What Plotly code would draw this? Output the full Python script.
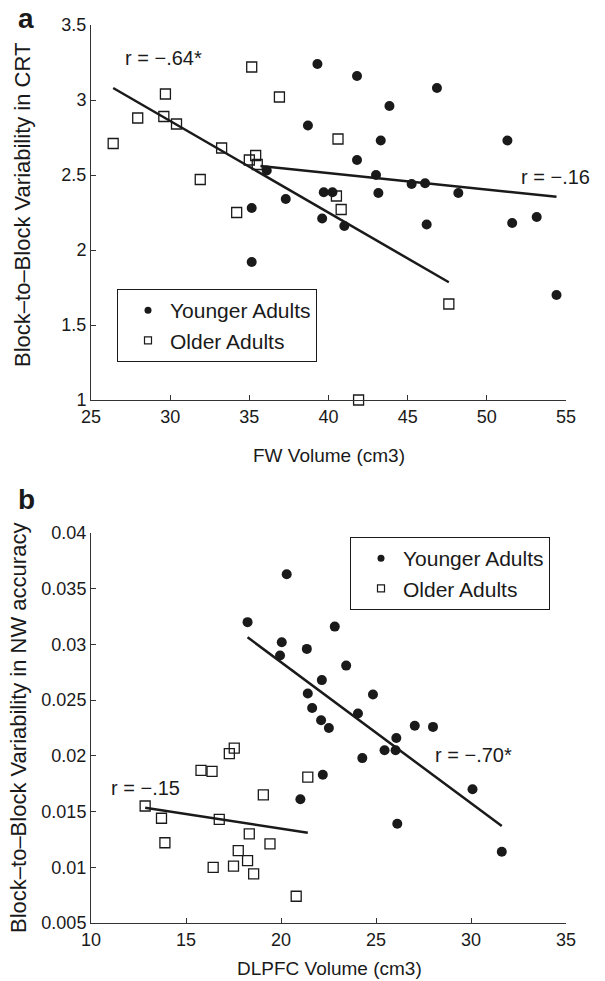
import plotly.graph_objects as go

# ---------------- Panel a data (FW volume vs CRT variability) ----------------
a_young_x = [39.3, 38.7, 36.1, 35.15, 37.3, 39.7, 40.25, 39.6, 41.8, 46.85, 43.85, 43.3, 51.3,
             41.8, 43.0, 45.25, 46.1, 48.2, 43.15, 53.15, 41.0, 46.2, 51.6, 54.4, 35.15]
a_young_y = [3.24, 2.83, 2.53, 2.28, 2.34, 2.385, 2.385, 2.21, 3.16, 3.08, 2.96, 2.73, 2.73,
             2.60, 2.50, 2.44, 2.445, 2.38, 2.38, 2.22, 2.16, 2.17, 2.18, 1.70, 1.92]
a_old_x = [26.4, 27.95, 29.7, 29.6, 30.4, 35.15, 36.9, 33.25, 31.9, 35.0, 35.4, 35.5, 34.2,
           40.6, 40.5, 40.8, 47.6, 41.9]
a_old_y = [2.71, 2.88, 3.04, 2.89, 2.84, 3.22, 3.02, 2.68, 2.47, 2.60, 2.63, 2.57, 2.25,
           2.74, 2.36, 2.27, 1.64, 1.00]
a_fit_old_x = [26.4, 47.6]
a_fit_old_y = [3.08, 1.785]
a_fit_young_x = [35.7, 54.4]
a_fit_young_y = [2.56, 2.355]

# ---------------- Panel b data (DLPFC volume vs NW accuracy variability) ----------------
b_young_x = [20.3, 18.24, 20.04, 19.95, 21.36, 22.83, 23.43, 22.15, 21.41, 21.64, 22.11, 22.52,
             24.05, 22.2, 21.02, 24.84, 27.04, 28.0, 26.07, 25.45, 26.03, 24.28, 30.08, 26.12, 31.62]
b_young_y = [0.0363, 0.0320, 0.0302, 0.0290, 0.0296, 0.0316, 0.0281, 0.0268, 0.0256, 0.0243,
             0.0232, 0.0225, 0.0238, 0.0183, 0.0161, 0.0255, 0.0227, 0.0226, 0.0216, 0.0205,
             0.0205, 0.0198, 0.0170, 0.0139, 0.0114]
b_old_x = [17.54, 17.28, 15.79, 16.37, 19.07, 21.41, 12.85, 13.71, 16.75, 18.33, 19.42, 13.89,
           17.75, 16.43, 17.5, 18.24, 18.56, 20.8]
b_old_y = [0.0207, 0.0202, 0.0187, 0.0186, 0.0165, 0.0181, 0.0155, 0.0144, 0.0143, 0.0130,
           0.0121, 0.0122, 0.0115, 0.0100, 0.0101, 0.0106, 0.0094, 0.0074]
b_fit_young_x = [18.24, 31.62]
b_fit_young_y = [0.03064, 0.0137]
b_fit_old_x = [12.85, 21.41]
b_fit_old_y = [0.01534, 0.01310]

# tick labels
a_xticks = [25, 30, 35, 40, 45, 50, 55]
a_yticks = [1, 1.5, 2, 2.5, 3, 3.5]
a_yticktext = ["1", "1.5", "2", "2.5", "3", "3.5"]
b_xticks = [10, 15, 20, 25, 30, 35]
b_yticks = [0.005, 0.01, 0.015, 0.02, 0.025, 0.03, 0.035, 0.04]
b_yticktext = ["0.005", "0.01", "0.015", "0.02", "0.025", "0.03", "0.035", "0.04"]
group_names = ["Younger Adults", "Older Adults"]

FONT = "Liberation Sans, Arial, Helvetica, sans-serif"
INK = "#1a1a1a"
W, H = 605, 981


def fx(px):
    return px / W


def fy(py):
    return 1 - py / H


fig = go.Figure()

dot = dict(symbol="circle", size=10, color=INK, line=dict(width=0))
sq = dict(symbol="square-open", size=10, color=INK, line=dict(width=1.3, color=INK))
dot_leg = dict(symbol="circle", size=7, color=INK, line=dict(width=0))
sq_leg = dict(symbol="square-open", size=7, color=INK, line=dict(width=1.2, color=INK))
fit_line = dict(color=INK, width=2.5)


def add_panel(xa, ya, leg, yx, yy, ox, oy, f1x, f1y, f2x, f2y):
    fig.add_trace(go.Scatter(x=yx, y=yy, mode="markers", marker=dot, name=group_names[0],
                             xaxis=xa, yaxis=ya, showlegend=False, cliponaxis=False))
    fig.add_trace(go.Scatter(x=ox, y=oy, mode="markers", marker=sq, name=group_names[1],
                             xaxis=xa, yaxis=ya, showlegend=False, cliponaxis=False))
    fig.add_trace(go.Scatter(x=f1x, y=f1y, mode="lines", line=fit_line, showlegend=False,
                             xaxis=xa, yaxis=ya, hoverinfo="skip"))
    fig.add_trace(go.Scatter(x=f2x, y=f2y, mode="lines", line=fit_line, showlegend=False,
                             xaxis=xa, yaxis=ya, hoverinfo="skip"))
    # legend entries (smaller symbols as in the original legend)
    fig.add_trace(go.Scatter(x=[None], y=[None], mode="markers", marker=dot_leg,
                             name=group_names[0], xaxis=xa, yaxis=ya, legend=leg))
    fig.add_trace(go.Scatter(x=[None], y=[None], mode="markers", marker=sq_leg,
                             name=group_names[1], xaxis=xa, yaxis=ya, legend=leg))


add_panel("x", "y", "legend", a_young_x, a_young_y, a_old_x, a_old_y,
          a_fit_old_x, a_fit_old_y, a_fit_young_x, a_fit_young_y)
add_panel("x2", "y2", "legend2", b_young_x, b_young_y, b_old_x, b_old_y,
          b_fit_young_x, b_fit_young_y, b_fit_old_x, b_fit_old_y)

xdom = [fx(91), fx(566)]
axis_common = dict(showline=True, linecolor="#333333", linewidth=1, mirror=False,
                   ticks="inside", ticklen=5, tickcolor="#333333", tickwidth=1,
                   showgrid=False, zeroline=False, automargin=False,
                   tickfont=dict(family=FONT, size=18, color=INK))

leg_common = dict(xanchor="left", yanchor="top", bordercolor=INK, borderwidth=1,
                  bgcolor="white", font=dict(family=FONT, size=21, color=INK),
                  indentation=8, itemwidth=34, itemsizing="trace", tracegroupgap=0)

fig.update_layout(
    width=W, height=H,
    margin=dict(l=0, r=0, t=0, b=0),
    paper_bgcolor="white", plot_bgcolor="white",
    font=dict(family=FONT, color=INK),
    xaxis=dict(domain=xdom, anchor="y", range=[25, 55], tickvals=a_xticks, **axis_common),
    yaxis=dict(domain=[fy(400), fy(25)], anchor="x", range=[1, 3.5],
               tickvals=a_yticks, ticktext=a_yticktext, **axis_common),
    xaxis2=dict(domain=xdom, anchor="y2", range=[10, 35], tickvals=b_xticks, **axis_common),
    yaxis2=dict(domain=[fy(923), fy(533)], anchor="x2", range=[0.005, 0.04],
                tickvals=b_yticks, ticktext=b_yticktext, **axis_common),
    legend=dict(x=fx(117), y=fy(289), **leg_common),
    legend2=dict(x=fx(350), y=fy(537), **leg_common),
    showlegend=True,
)

ann_font = dict(family=FONT, size=20, color=INK)
title_font = dict(family=FONT, size=19, color=INK)
ytitle_font = dict(family=FONT, size=22, color=INK)
annotations = [
    dict(x=27.02, y=3.28, xref="x", yref="y", text="r = −.64*", showarrow=False,
         xanchor="left", yanchor="middle", font=ann_font),
    dict(x=52.04, y=2.487, xref="x", yref="y", text="r = −.16", showarrow=False,
         xanchor="left", yanchor="middle", font=ann_font),
    dict(x=10.95, y=0.01711, xref="x2", yref="y2", text="r = −.15", showarrow=False,
         xanchor="left", yanchor="middle", font=ann_font),
    dict(x=27.98, y=0.02007, xref="x2", yref="y2", text="r = −.70*", showarrow=False,
         xanchor="left", yanchor="middle", font=ann_font),
    # panel letters
    dict(x=fx(26), y=fy(18), xref="paper", yref="paper", text="<b>a</b>", showarrow=False,
         xanchor="center", yanchor="middle", font=dict(family=FONT, size=28, color=INK)),
    dict(x=fx(26), y=fy(500), xref="paper", yref="paper", text="<b>b</b>", showarrow=False,
         xanchor="center", yanchor="middle", font=dict(family=FONT, size=28, color=INK)),
    # axis titles
    dict(x=fx((91 + 566) / 2), y=fy(455), xref="paper", yref="paper",
         text="FW Volume (cm3)", showarrow=False, xanchor="center", yanchor="middle",
         font=title_font),
    dict(x=fx((92 + 566) / 2), y=fy(968), xref="paper", yref="paper",
         text="DLPFC Volume (cm3)", showarrow=False, xanchor="center", yanchor="middle",
         font=title_font),
    dict(x=fx(23), y=fy(205), xref="paper", yref="paper",
         text="Block–to–Block Variability in CRT", showarrow=False, textangle=-90,
         xanchor="center", yanchor="middle", font=ytitle_font),
    dict(x=fx(18), y=fy(728), xref="paper", yref="paper",
         text="Block–to–Block Variability in NW accuracy", showarrow=False, textangle=-90,
         xanchor="center", yanchor="middle", font=ytitle_font),
]
fig.update_layout(annotations=annotations)

# remove the browser's default 8 px page margin so the figure fills the window exactly
fig.write_html("out.html", config={"displayModeBar": False},
               post_script="document.body.style.margin='0px';")
